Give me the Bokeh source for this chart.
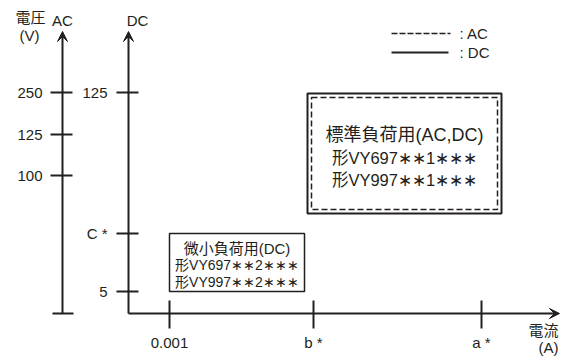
from bokeh.plotting import figure
from bokeh.models import Range1d, ColumnDataSource, Arrow, VeeHead
from bokeh.core.properties import value
from bokeh.embed import file_html
from bokeh.resources import INLINE

# ---------------- data (labels / categories) ----------------
ac_labels = ["250", "125", "100"]          # AC voltage levels (V)
dc_labels = ["125", "C *", "5"]            # DC voltage levels (V)
current_labels = ["0.001", "b *", "a *"]   # current levels (A)
legend_labels = [": AC", ": DC"]
std_lines = ["標準負荷用(AC,DC)", "形VY697∗∗1∗∗∗", "形VY997∗∗1∗∗∗"]
micro_lines = ["微小負荷用(DC)", "形VY697∗∗2∗∗∗", "形VY997∗∗2∗∗∗"]

# ---------------- layout (diagram positions) ----------------
W, H = 561, 360
AC_X, DC_X = 62, 128
AXIS_Y = 313
TOP_Y = 31
X_END = 559
ac_pos = [92, 134, 175]
dc_pos = [92, 233, 291]
cur_pos = [169, 313, 481]
STD_BOX = (307, 93, 501, 213)
MICRO_RIGHT = 304

FONT = value("'Liberation Sans', 'Noto Sans CJK JP'")
INK = "#231f20"

p = figure(width=W, height=H, x_range=Range1d(0, W), y_range=Range1d(H, 0),
           output_backend="svg", toolbar_location=None, min_border=0,
           x_axis_location=None, y_axis_location=None)
p.grid.visible = False
p.outline_line_color = None
p.background_fill_color = "white"

# ---------- axes lines with arrows ----------
arrows = ColumnDataSource(dict(x0=[AC_X, DC_X, DC_X], y0=[AXIS_Y, AXIS_Y, AXIS_Y],
                               x1=[AC_X, DC_X, X_END], y1=[TOP_Y, TOP_Y, AXIS_Y]))
p.add_layout(Arrow(source=arrows, x_start="x0", y_start="y0", x_end="x1", y_end="y1",
                   line_color=INK, line_width=2,
                   end=VeeHead(size=10, fill_color=INK, line_color=INK, line_width=1)))
# AC axis bottom cap
p.segment(x0=[AC_X - 10], y0=[AXIS_Y], x1=[AC_X + 11], y1=[AXIS_Y], line_color=INK, line_width=2)

# ---------- ticks ----------
p.segment(x0=[AC_X - 12] * len(ac_pos), y0=ac_pos, x1=[AC_X + 10] * len(ac_pos), y1=ac_pos,
          line_color=INK, line_width=2)
p.segment(x0=[DC_X - 12] * len(dc_pos), y0=dc_pos, x1=[DC_X + 10] * len(dc_pos), y1=dc_pos,
          line_color=INK, line_width=2)
p.segment(x0=cur_pos, y0=[AXIS_Y - 13] * len(cur_pos), x1=cur_pos, y1=[AXIS_Y + 15] * len(cur_pos),
          line_color=INK, line_width=2)

# ---------- tick labels ----------
p.text(x=[AC_X - 20] * len(ac_pos), y=ac_pos, text=ac_labels, text_align="right",
       text_baseline="middle", text_font=FONT, text_font_size="15px", text_color=INK)
p.text(x=[DC_X - 21] * len(dc_pos), y=dc_pos, text=dc_labels, text_align="right",
       text_baseline="middle", text_font=FONT, text_font_size="15px", text_color=INK)
p.text(x=cur_pos, y=[AXIS_Y + 29] * len(cur_pos), text=current_labels, text_align="center",
       text_baseline="middle", text_font=FONT, text_font_size="15px", text_color=INK)

# ---------- axis titles ----------
p.text(x=[30, 29, AC_X, DC_X + 9, 543, 548], y=[17, 35, 20, 20, 330, 347],
       text=["電圧", "(V)", "AC", "DC", "電流", "(A)"], text_align="center",
       text_baseline="middle", text_font=FONT, text_font_size="15px", text_color=INK)

# ---------- legend ----------
p.segment(x0=[391], y0=[33], x1=[450], y1=[33], line_color=INK, line_width=1.5, line_dash="6 2")
p.segment(x0=[391], y0=[52], x1=[448], y1=[52], line_color=INK, line_width=2)
p.text(x=[459, 459], y=[33, 52], text=legend_labels, text_align="left", text_baseline="middle",
       text_font=FONT, text_font_size="15px", text_color=INK)

# ---------- standard load box (AC dashed inside DC solid) ----------
l, t, r, b = STD_BOX
p.quad(left=[l], right=[r], top=[t], bottom=[b], fill_color=None, line_color=INK, line_width=2)
p.quad(left=[l + 4], right=[r - 4], top=[t + 4], bottom=[b - 4], fill_color=None,
       line_color=INK, line_width=1.5, line_dash="6 3")
cx = (l + r) / 2
p.text(x=[cx] * 3, y=[134, 157, 179], text=std_lines, text_align="center", text_baseline="middle",
       text_font=FONT, text_font_size=["18px", "16.5px", "16.5px"], text_color=INK)

# ---------- micro load box ----------
p.quad(left=[cur_pos[0]], right=[MICRO_RIGHT], top=[dc_pos[1]], bottom=[dc_pos[2]],
       fill_color=None, line_color=INK, line_width=1.5)
mx = (cur_pos[0] + MICRO_RIGHT) / 2
p.text(x=[mx] * 3, y=[248, 264.5, 281], text=micro_lines, text_align="center", text_baseline="middle",
       text_font=FONT, text_font_size=["15px", "14px", "14px"], text_color=INK)

open("out.html", "w").write(file_html(p, INLINE))
